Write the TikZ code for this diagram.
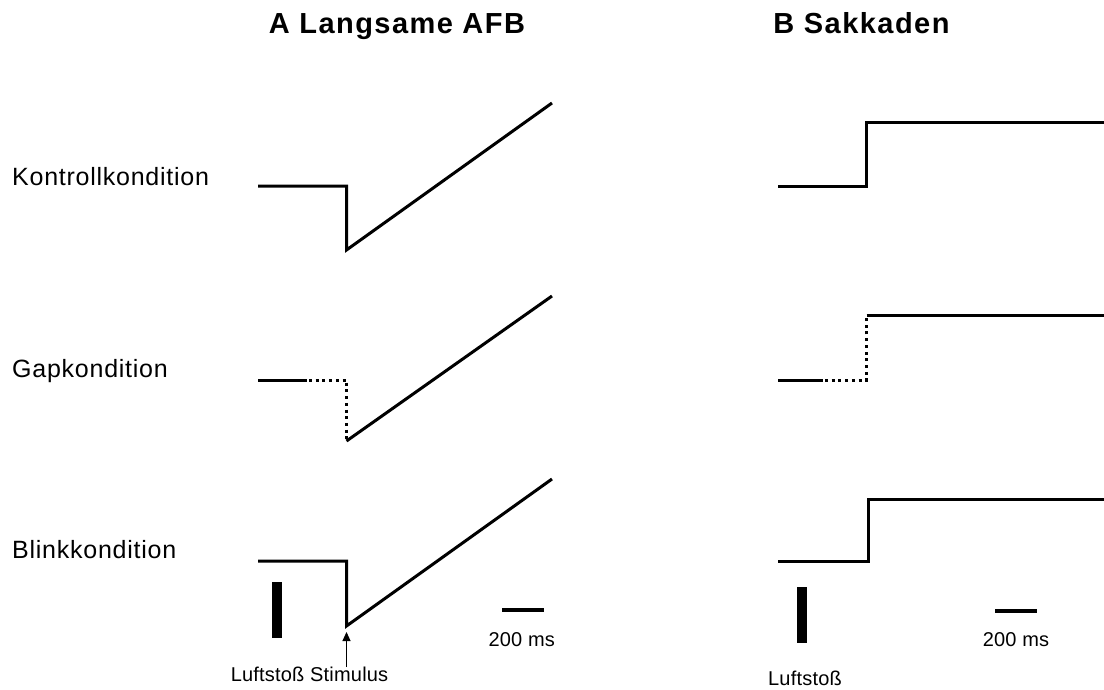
\documentclass[tikz,border=0pt]{standalone}
\usepackage{fontspec}
\setmainfont{Liberation Sans}
\newfontfamily\titlefont[LetterSpace=5]{Liberation Sans}
\newfontfamily\labfont[LetterSpace=3]{Liberation Sans}
\newfontfamily\smallfont[LetterSpace=1]{Liberation Sans}
\usetikzlibrary{arrows.meta}
\begin{document}
\begin{tikzpicture}[x=1pt,y=-1pt,
  trace/.style={line width=3pt,line join=miter},
  dotted trace/.style={line width=3pt,dash pattern=on 3pt off 3.7pt},
  ttl/.style={anchor=base,inner sep=0pt,font=\titlefont\bfseries\fontsize{29}{32}\selectfont},
  lab/.style={anchor=base west,inner sep=0pt,font=\labfont\fontsize{25}{28}\selectfont},
  sml/.style={anchor=base,inner sep=0pt,font=\smallfont\fontsize{20}{23}\selectfont},
  bar/.style={fill=black,draw=none},
  scalebar/.style={line width=4pt}]
\useasboundingbox (0,0) rectangle (1104,689);

% titles
\node[ttl] (tA) at (397,33) {A Langsame AFB};
\node[ttl] (tB) at (861.5,33) {B Sakkaden};

% row labels
\node[lab] (lK) at (12,185) {Kontrollkondition};
\node[lab] (lG) at (12,377) {Gapkondition};
\node[lab] (lB) at (12,558) {Blinkkondition};

% Panel A
\draw[trace] (258,186) -- (346.5,186) -- (346.5,250) -- (552,103);
\draw[trace] (258,380) -- (307,380);
\draw[dotted trace] (309,380) -- (346.5,380) -- (346.5,441);
\draw[trace] (346.5,441) -- (552,296);
\draw[trace] (258,561) -- (346.5,561) -- (346.5,626) -- (552,479);

% Panel B
\draw[trace] (778,186) -- (866,186) -- (866,122) -- (1104,122);
\draw[trace] (778,380) -- (823,380);
\draw[dotted trace] (825,380) -- (866.5,380) -- (866.5,315);
\draw[trace] (866.5,315) -- (1104,315);
\draw[trace] (778,561) -- (868.5,561) -- (868.5,499) -- (1104,499);

% air puff bars
\fill[bar] (272,582) rectangle (281.5,638);
\fill[bar] (797,587) rectangle (807,643);

% scale bars
\draw[scalebar] (502,610) -- (543.5,610);
\draw[scalebar] (995,611) -- (1037,611);
\node[sml] (sA) at (521.7,646.5) {200 ms};
\node[sml] (sB) at (1016,646.5) {200 ms};

% bottom labels
\node[sml] (ls) at (309.5,681.5) {Luftstoß Stimulus};
\node[sml] (lB2) at (805,685) {Luftstoß};
\coordinate (arrTail) at (346.5,667);
\coordinate (arrTip) at (346.5,632);
\draw[line width=1pt,-{Triangle[length=9pt,width=8pt]}] (arrTail) -- (arrTip);
\end{tikzpicture}
\end{document}
